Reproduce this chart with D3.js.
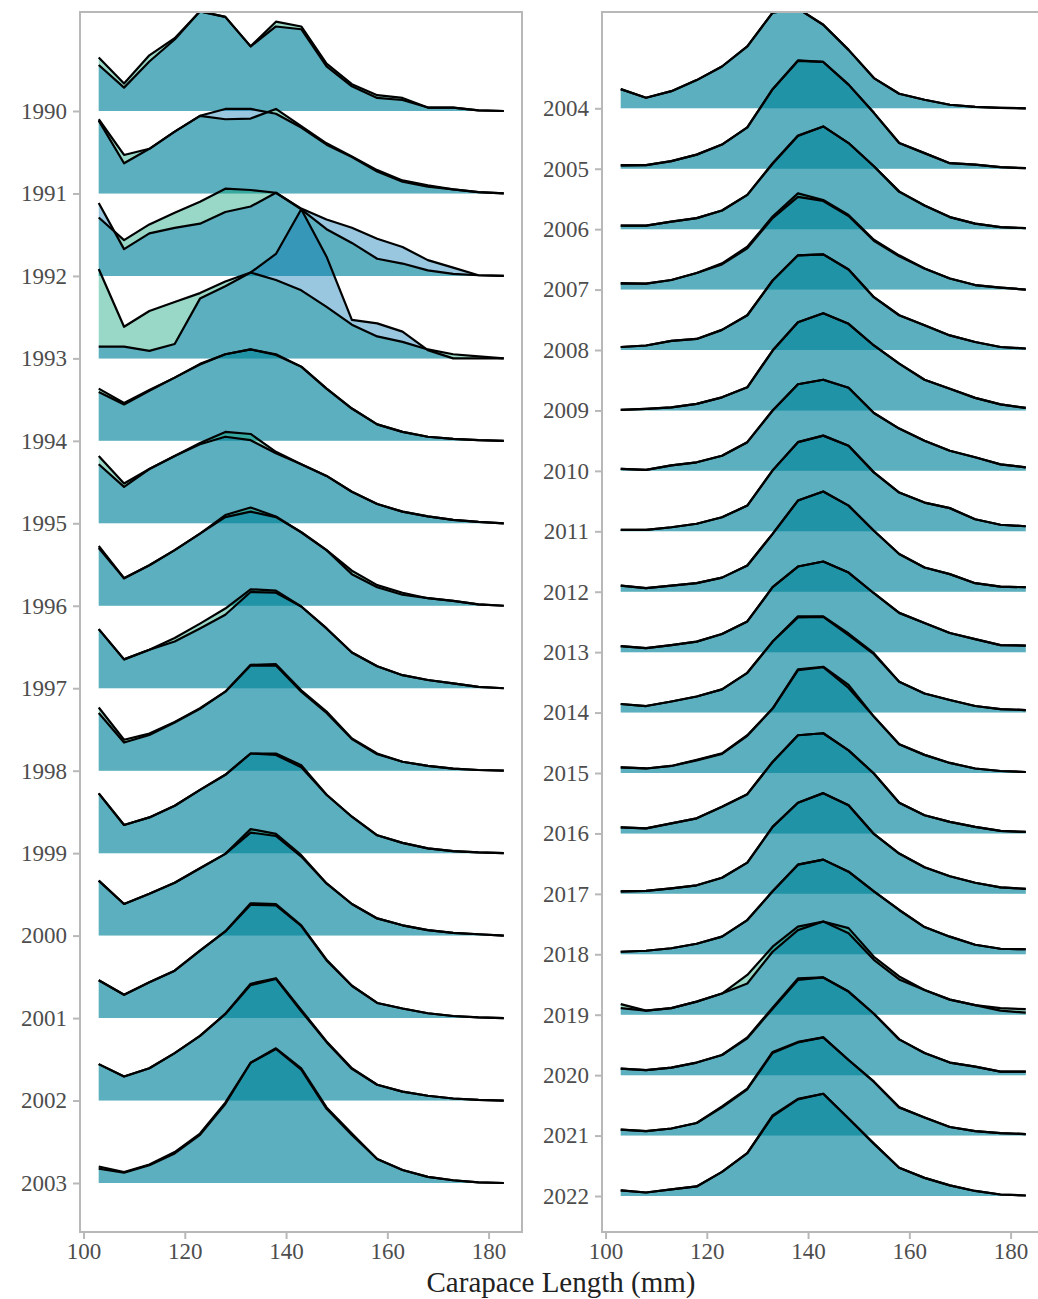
<!DOCTYPE html>
<html>
<head>
<meta charset="utf-8">
<script src="https://cdn.jsdelivr.net/npm/d3@7"></script>
<style>
  body { margin: 0; background: #fff; }
  text { font-family: "Liberation Serif", "Times New Roman", serif; }
</style>
</head>
<body>
<div id="ridges"></div>
<script>
// Size classes (carapace length, mm) and years
const bins = [103, 108, 113, 118, 123, 128, 133, 138, 143, 148, 153, 158, 163, 168, 173, 178, 183];
const leftYears = [1990, 1991, 1992, 1993, 1994, 1995, 1996, 1997, 1998, 1999, 2000, 2001, 2002, 2003];
const rightYears = [2004, 2005, 2006, 2007, 2008, 2009, 2010, 2011, 2012, 2013, 2014, 2015, 2016, 2017, 2018, 2019, 2020, 2021, 2022];
const xTicks = [100, 120, 140, 160, 180];

// Percent of catch per size class, survey A (green)
const surveyA = [
  [7.8, 4.0, 8.1, 10.6, 14.5, 13.7, 9.4, 13.0, 12.3, 6.9, 3.9, 2.3, 1.9, 0.5, 0.5, 0.1, 0],
  [10.8, 5.6, 6.5, 9.0, 11.3, 10.8, 10.9, 12.3, 9.8, 7.3, 5.4, 3.4, 1.9, 1.2, 0.6, 0.2, 0],
  [8.5, 5.2, 7.5, 9.2, 10.8, 12.7, 12.5, 12.1, 9.7, 6.8, 4.8, 2.5, 1.8, 0.8, 0.3, 0.1, 0],
  [13.0, 4.6, 6.9, 8.2, 9.5, 11.2, 12.5, 11.4, 9.9, 7.5, 4.9, 3.2, 2.4, 1.3, 0.6, 0.3, 0],
  [7.6, 5.5, 7.4, 9.2, 11.2, 12.6, 13.3, 12.6, 10.8, 7.6, 4.7, 2.4, 1.3, 0.6, 0.3, 0.1, 0],
  [9.8, 5.8, 7.9, 9.8, 11.7, 13.3, 13.0, 10.4, 8.6, 6.9, 4.6, 2.8, 1.7, 1.0, 0.5, 0.2, 0],
  [8.7, 4.0, 5.9, 8.1, 10.5, 13.2, 14.3, 13.0, 10.7, 8.1, 5.1, 3.0, 1.9, 1.1, 0.7, 0.2, 0],
  [8.6, 4.2, 5.6, 7.3, 9.4, 11.6, 14.4, 14.2, 11.9, 8.7, 5.2, 3.2, 1.9, 1.2, 0.7, 0.2, 0],
  [9.2, 4.5, 5.4, 7.1, 9.1, 11.5, 15.4, 15.5, 11.7, 8.6, 4.7, 2.5, 1.3, 0.7, 0.3, 0.1, 0],
  [8.7, 4.1, 5.2, 6.9, 9.2, 11.4, 14.5, 14.5, 12.8, 8.5, 5.3, 2.6, 1.5, 0.7, 0.3, 0.1, 0],
  [8.0, 4.6, 6.1, 7.7, 9.8, 11.9, 15.5, 14.8, 11.7, 7.6, 4.6, 2.5, 1.5, 0.8, 0.4, 0.2, 0],
  [5.5, 3.4, 5.2, 6.9, 9.8, 12.6, 16.7, 16.6, 13.5, 8.5, 4.7, 2.2, 1.4, 0.7, 0.3, 0.1, 0],
  [5.3, 3.5, 4.7, 6.9, 9.4, 12.6, 17.0, 17.8, 13.2, 8.6, 4.7, 2.3, 1.3, 0.7, 0.3, 0.1, 0],
  [2.1, 1.5, 2.6, 4.3, 7.0, 11.5, 17.5, 19.6, 16.7, 11.0, 7.2, 3.5, 1.9, 0.9, 0.4, 0.1, 0],
  [3.8, 2.1, 3.4, 5.6, 8.3, 12.3, 19.0, 19.8, 16.6, 11.6, 6.0, 2.9, 1.7, 0.7, 0.3, 0.1, 0],
  [0.7, 0.7, 1.5, 2.8, 4.8, 8.2, 15.8, 21.5, 21.2, 16.7, 11.1, 5.1, 3.1, 1.1, 0.8, 0.3, 0.1],
  [0.7, 0.7, 1.5, 2.2, 3.7, 6.8, 13.1, 18.6, 20.4, 17.1, 12.5, 7.5, 4.7, 2.4, 1.1, 0.4, 0.2],
  [1.3, 1.2, 1.9, 3.3, 5.2, 8.5, 14.5, 19.1, 17.8, 14.8, 9.9, 6.8, 4.2, 2.2, 0.9, 0.4, 0],
  [0.6, 0.9, 1.8, 2.2, 4.0, 6.9, 13.8, 18.8, 19.0, 16.0, 10.5, 6.9, 4.9, 2.9, 1.6, 0.6, 0.3],
  [0.1, 0.3, 0.6, 1.3, 2.6, 4.6, 11.9, 17.5, 19.3, 17.2, 12.9, 9.3, 6.1, 4.3, 2.5, 1.2, 0.5],
  [0.4, 0.2, 1.1, 1.7, 3.0, 5.7, 12.0, 17.2, 18.1, 16.5, 11.5, 8.4, 6.0, 4.0, 2.7, 1.3, 0.7],
  [0.3, 0.3, 0.8, 1.5, 2.8, 5.1, 12.1, 17.7, 19.0, 17.0, 11.7, 7.7, 5.7, 4.6, 2.4, 1.3, 1.0],
  [1.2, 0.7, 1.2, 1.7, 2.8, 5.2, 11.5, 18.1, 19.9, 17.1, 12.1, 7.5, 4.8, 3.5, 1.7, 1.0, 0.9],
  [1.2, 0.8, 1.4, 2.1, 3.6, 6.1, 12.9, 17.0, 18.0, 15.8, 11.7, 7.8, 5.8, 3.8, 2.6, 1.4, 1.3],
  [1.7, 1.3, 2.2, 3.2, 4.6, 7.9, 14.1, 19.1, 19.1, 15.7, 11.8, 6.1, 3.8, 2.5, 1.3, 0.7, 0.5],
  [1.1, 0.9, 1.4, 2.6, 3.9, 7.5, 12.8, 20.6, 21.1, 17.5, 11.2, 5.7, 3.6, 2.0, 0.9, 0.4, 0.2],
  [1.2, 1.0, 2.0, 3.0, 5.3, 7.8, 14.2, 19.5, 19.9, 16.5, 11.9, 6.1, 3.6, 2.3, 1.3, 0.5, 0.3],
  [0.5, 0.6, 1.1, 1.7, 3.2, 6.2, 13.3, 18.1, 20.0, 17.6, 11.9, 8.0, 5.3, 3.5, 2.2, 1.3, 1.0],
  [0.5, 0.7, 1.2, 2.1, 3.5, 6.8, 12.5, 17.8, 18.8, 16.4, 12.5, 8.8, 5.4, 3.5, 1.9, 1.1, 1.0],
  [2.1, 0.8, 1.3, 2.6, 4.2, 7.9, 13.5, 17.5, 18.5, 17.2, 11.5, 7.6, 4.9, 3.0, 1.9, 1.3, 1.1],
  [1.3, 1.0, 1.5, 2.5, 4.0, 7.5, 13.4, 19.2, 19.4, 16.6, 12.2, 7.1, 4.4, 2.5, 1.7, 0.7, 0.7],
  [1.2, 0.9, 1.4, 2.5, 5.8, 9.3, 16.6, 18.6, 19.5, 15.0, 10.7, 5.6, 3.6, 1.7, 0.9, 0.5, 0.3],
  [1.1, 0.7, 1.3, 1.9, 4.8, 8.5, 16.0, 19.3, 20.3, 15.4, 10.4, 5.6, 3.6, 2.1, 1.0, 0.3, 0.1]
];

// Percent of catch per size class, survey B (blue)
const surveyB = [
  [6.7, 3.4, 7.2, 10.4, 14.5, 13.7, 9.4, 12.3, 11.9, 6.5, 3.6, 1.9, 1.6, 0.5, 0.5, 0.1, 0],
  [10.6, 4.4, 6.5, 9.0, 11.3, 12.3, 12.3, 11.6, 9.6, 7.1, 5.3, 3.2, 1.7, 1.0, 0.6, 0.2, 0],
  [10.6, 3.9, 6.2, 7.0, 7.6, 9.3, 10.1, 12.1, 9.8, 8.2, 7.0, 5.4, 4.2, 2.3, 1.2, 0.1, 0],
  [1.7, 1.7, 1.1, 2.1, 8.7, 10.5, 12.5, 15.2, 21.7, 14.8, 5.6, 5.1, 3.9, 1.2, 0, 0, 0],
  [7.1, 5.3, 7.3, 9.2, 11.1, 12.6, 13.3, 12.5, 10.8, 7.6, 4.7, 2.4, 1.3, 0.6, 0.3, 0.1, 0],
  [8.6, 5.3, 7.9, 9.8, 11.5, 12.6, 12.1, 10.2, 8.6, 6.9, 4.6, 2.8, 1.7, 1.0, 0.5, 0.2, 0],
  [8.4, 4.0, 5.9, 8.1, 10.5, 12.9, 13.7, 12.9, 10.7, 8.1, 4.6, 2.7, 1.6, 1.1, 0.7, 0.2, 0],
  [8.6, 4.2, 5.6, 6.8, 8.7, 10.7, 14.0, 13.9, 11.9, 8.7, 5.2, 3.2, 1.9, 1.2, 0.7, 0.2, 0],
  [8.4, 4.1, 5.2, 7.0, 9.0, 11.5, 15.3, 15.3, 11.5, 8.4, 4.6, 2.4, 1.3, 0.7, 0.3, 0.1, 0],
  [8.7, 4.1, 5.2, 6.9, 9.2, 11.4, 14.5, 14.3, 12.5, 8.5, 5.3, 2.6, 1.5, 0.7, 0.3, 0.1, 0],
  [8.0, 4.6, 6.1, 7.7, 9.8, 11.9, 15.0, 14.5, 11.5, 7.6, 4.6, 2.5, 1.5, 0.8, 0.4, 0.2, 0],
  [5.5, 3.4, 5.2, 6.9, 9.8, 12.6, 16.5, 16.4, 13.4, 8.4, 4.7, 2.2, 1.4, 0.7, 0.3, 0.1, 0],
  [5.3, 3.5, 4.7, 6.9, 9.4, 12.6, 16.8, 17.7, 13.0, 8.5, 4.6, 2.3, 1.3, 0.7, 0.3, 0.1, 0],
  [2.4, 1.6, 2.7, 4.5, 7.2, 11.7, 17.5, 19.5, 16.5, 10.8, 7.0, 3.5, 1.9, 0.9, 0.4, 0.1, 0],
  [3.8, 2.1, 3.4, 5.6, 8.3, 12.3, 19.0, 19.8, 16.6, 11.6, 6.0, 2.9, 1.7, 0.7, 0.3, 0.1, 0],
  [0.6, 0.7, 1.5, 2.8, 4.8, 8.2, 15.8, 21.4, 21.2, 16.7, 11.1, 5.1, 3.1, 1.1, 0.8, 0.3, 0.1],
  [0.7, 0.7, 1.5, 2.2, 3.7, 6.8, 13.0, 18.5, 20.4, 17.1, 12.5, 7.4, 4.7, 2.4, 1.1, 0.4, 0.2],
  [1.2, 1.2, 1.9, 3.3, 5.0, 8.2, 14.2, 18.4, 17.6, 14.6, 9.7, 6.6, 4.2, 2.2, 0.9, 0.4, 0],
  [0.6, 0.9, 1.8, 2.2, 4.0, 6.9, 13.8, 18.8, 19.0, 16.0, 10.5, 6.9, 4.9, 2.9, 1.6, 0.6, 0.3],
  [0.1, 0.3, 0.6, 1.3, 2.6, 4.6, 11.9, 17.5, 19.3, 17.2, 12.9, 9.3, 6.1, 4.3, 2.5, 1.2, 0.5],
  [0.4, 0.2, 1.1, 1.7, 3.0, 5.7, 12.0, 17.2, 18.1, 16.5, 11.5, 8.4, 6.0, 4.0, 2.7, 1.3, 0.7],
  [0.3, 0.3, 0.8, 1.5, 2.8, 5.1, 12.1, 17.7, 19.0, 17.0, 11.7, 7.7, 5.7, 4.6, 2.4, 1.3, 1.0],
  [1.2, 0.7, 1.2, 1.7, 2.8, 5.2, 11.5, 18.1, 19.9, 17.1, 12.1, 7.5, 4.8, 3.5, 1.7, 1.0, 0.9],
  [1.2, 0.8, 1.4, 2.1, 3.6, 6.1, 12.9, 17.0, 18.0, 15.8, 11.7, 7.8, 5.8, 3.8, 2.6, 1.4, 1.3],
  [1.7, 1.3, 2.2, 3.2, 4.6, 7.9, 14.1, 18.9, 19.0, 15.4, 11.6, 6.1, 3.8, 2.5, 1.3, 0.7, 0.5],
  [1.1, 0.9, 1.4, 2.5, 3.8, 7.4, 12.8, 20.4, 21.0, 16.9, 11.2, 5.7, 3.6, 2.0, 0.9, 0.4, 0.2],
  [1.2, 1.0, 2.0, 3.0, 5.3, 7.8, 14.2, 19.5, 19.9, 16.5, 11.9, 6.1, 3.6, 2.3, 1.3, 0.5, 0.3],
  [0.5, 0.6, 1.1, 1.7, 3.2, 6.2, 13.3, 18.1, 20.0, 17.6, 11.9, 8.0, 5.3, 3.5, 2.2, 1.3, 1.0],
  [0.5, 0.7, 1.2, 2.1, 3.5, 6.8, 12.5, 17.8, 18.8, 16.4, 12.5, 8.8, 5.4, 3.5, 1.9, 1.1, 1.0],
  [1.3, 0.8, 1.3, 2.6, 4.2, 6.2, 12.5, 16.8, 18.5, 16.2, 10.9, 7.0, 4.9, 3.0, 1.9, 0.8, 0.4],
  [1.3, 1.0, 1.5, 2.5, 4.0, 7.3, 13.2, 18.9, 19.4, 16.6, 12.2, 7.1, 4.4, 2.5, 1.7, 0.7, 0.7],
  [1.2, 0.9, 1.4, 2.5, 5.6, 9.2, 16.4, 18.5, 19.5, 15.0, 10.7, 5.6, 3.6, 1.7, 0.9, 0.5, 0.3],
  [1.1, 0.7, 1.3, 1.9, 4.8, 8.5, 15.8, 19.2, 20.3, 15.4, 10.4, 5.6, 3.6, 2.1, 1.0, 0.3, 0.1]
];

const allYears = leftYears.concat(rightYears);

// Canvas
const width = 1038, height = 1299;
const svg = d3.select("#ridges")
  .append("svg")
    .attr("width", width)
    .attr("height", height);

const frameTop = 12, frameBottom = 1232;
const frameColor = "#b8b8b8";
const labelColor = "#4d4d4d";

// Panel definitions
const panels = [
  {years: leftYears, x0: 80, x1: 522, yRange: [111, 1183]},
  {years: rightYears, x0: 602, x1: 1044, yRange: [108.3, 1196]}
];

const series = [
  {values: surveyA, color: "#009E73"},
  {values: surveyB, color: "#0072B2"}
];

panels.forEach((p, pi) => {
  const x = d3.scaleLinear()
      .domain([99.3, 186.6])
      .range([p.x0, p.x1]);

  const y = d3.scalePoint()
      .domain(p.years)
      .range(p.yRange);

  // ridge height: 12 % of catch = one row step
  const h = d3.scaleLinear()
      .domain([0, 12])
      .range([0, y.step()]);

  // Clip to panel
  svg.append("clipPath")
      .attr("id", "clip" + pi)
    .append("rect")
      .attr("x", p.x0)
      .attr("y", frameTop)
      .attr("width", p.x1 - p.x0)
      .attr("height", frameBottom - frameTop);

  const g = svg.append("g").attr("clip-path", `url(#clip${pi})`);

  p.years.forEach(year => {
    const idx = allYears.indexOf(year);
    const base = y(year);

    const area = d3.area()
        .x((d, i) => x(bins[i]))
        .y0(base)
        .y1(d => base - h(d));

    const line = d3.line()
        .x((d, i) => x(bins[i]))
        .y(d => base - h(d));

    series.forEach(s => {
      g.append("path")
          .datum(s.values[idx])
          .attr("d", area)
          .attr("fill", s.color)
          .attr("fill-opacity", 0.4)
          .attr("stroke", "none");
    });
    series.forEach(s => {
      g.append("path")
          .datum(s.values[idx])
          .attr("d", line)
          .attr("fill", "none")
          .attr("stroke", "#000")
          .attr("stroke-width", 2.2)
          .attr("stroke-linejoin", "round");
    });
  });

  // Frame
  svg.append("rect")
      .attr("x", p.x0)
      .attr("y", frameTop)
      .attr("width", p.x1 - p.x0)
      .attr("height", frameBottom - frameTop)
      .attr("fill", "none")
      .attr("stroke", frameColor)
      .attr("stroke-width", 2);

  // Y axis (years)
  const yAxis = svg.append("g")
      .attr("transform", `translate(${p.x0},0)`)
      .call(d3.axisLeft(y).tickSize(7).tickPadding(6).tickSizeOuter(0));
  yAxis.select(".domain").remove();
  yAxis.selectAll("line").attr("stroke", frameColor).attr("stroke-width", 2);
  yAxis.selectAll("text")
      .attr("font-family", "Liberation Serif, serif")
      .attr("font-size", 23)
      .attr("fill", labelColor);

  // X axis
  const xAxis = svg.append("g")
      .attr("transform", `translate(0,${frameBottom})`)
      .call(d3.axisBottom(x).tickValues(xTicks).tickSize(7).tickPadding(4).tickSizeOuter(0));
  xAxis.select(".domain").remove();
  xAxis.selectAll("line").attr("stroke", frameColor).attr("stroke-width", 2);
  xAxis.selectAll("text")
      .attr("font-family", "Liberation Serif, serif")
      .attr("font-size", 23)
      .attr("fill", labelColor);
});

// X axis title
svg.append("text")
    .attr("x", 561)
    .attr("y", 1292)
    .attr("text-anchor", "middle")
    .attr("font-family", "Liberation Serif, serif")
    .attr("font-size", 29)
    .attr("fill", "#222")
    .text("Carapace Length (mm)");
</script>
</body>
</html>
